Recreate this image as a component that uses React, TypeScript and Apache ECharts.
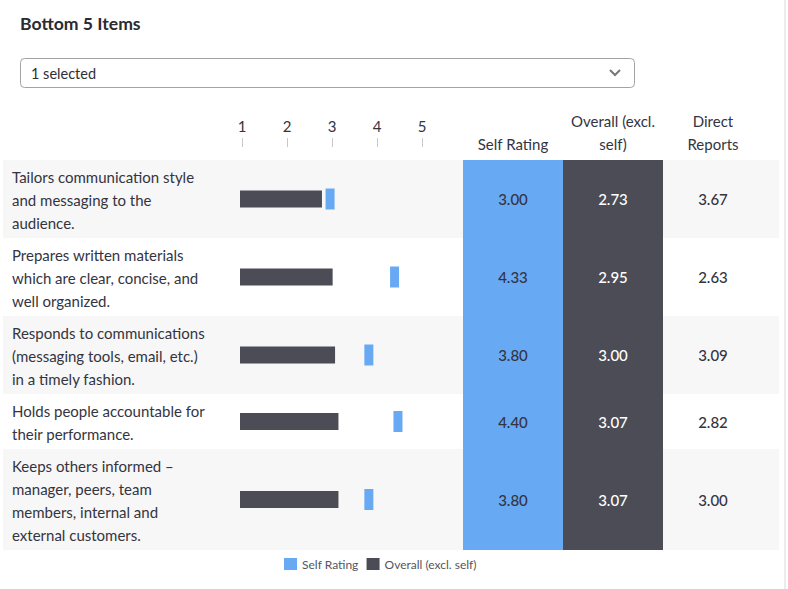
import React, { useEffect, useRef } from "react";
import * as echarts from "echarts";

const TITLE = "Bottom 5 Items";
const DROPDOWN_TEXT = "1 selected";
const ITEMS: string[][] = [
  ["Tailors communication style", "and messaging to the", "audience."],
  ["Prepares written materials", "which are clear, concise, and", "well organized."],
  ["Responds to communications", "(messaging tools, email, etc.)", "in a timely fashion."],
  ["Holds people accountable for", "their performance."],
  ["Keeps others informed –", "manager, peers, team", "members, internal and", "external customers."],
];
const SELF = [3.0, 4.33, 3.8, 4.4, 3.8];
const OVERALL = [2.73, 2.95, 3.0, 3.07, 3.07];
const DIRECT = [3.67, 2.63, 3.09, 2.82, 3.0];
const TICKS = [1, 2, 3, 4, 5];
const COLUMNS: { name: string[]; key: "self" | "overall" | "direct" }[] = [
  { name: ["Self Rating"], key: "self" },
  { name: ["Overall (excl.", "self)"], key: "overall" },
  { name: ["Direct", "Reports"], key: "direct" },
];
const SERIES_SELF = "Self Rating";
const SERIES_OVERALL = "Overall (excl. self)";

const FONT = "Lato, 'Open Sans', sans-serif";
const TEXT = "#34343f";
const BLUE = "#68a9f3";
const DARK = "#4b4c56";

export default function App() {
  const ref = useRef<HTMLDivElement>(null);
  useEffect(() => {
    if (!ref.current) return;
    const chart = echarts.init(ref.current, undefined, { renderer: "svg" });

    const LINE_H = 23;
    const PAD = 9;
    const TOP0 = 160;
    const ROW_L = 3;
    const ROW_R = 779;
    const rowH = ITEMS.map((l) => l.length * LINE_H + PAD);
    const rowTop: number[] = [];
    let acc = TOP0;
    rowH.forEach((h) => {
      rowTop.push(acc);
      acc += h;
    });
    const tableBottom = acc;
    const colX = [463, 563, 663];
    const colW = [100, 100, 116];

    const graphics: any[] = [];
    graphics.push({ type: "rect", shape: { x: 784, y: 0, width: 2, height: 589 }, style: { fill: "#ececec" }, z: 0 });
    graphics.push({
      type: "text", z: 5,
      style: { text: TITLE, x: 20, y: 23, fill: "#2a2a30", font: `bold 17.6px ${FONT}`, textAlign: "left", textVerticalAlign: "middle" },
    });
    graphics.push({
      type: "rect", z: 1,
      shape: { x: 20.5, y: 58.5, width: 614, height: 29, r: 4 },
      style: { fill: "#fff", stroke: "#a3a3a3", lineWidth: 1 },
    });
    graphics.push({
      type: "text", z: 5,
      style: { text: DROPDOWN_TEXT, x: 31, y: 73, fill: "#2e2e36", font: `14.5px ${FONT}`, textAlign: "left", textVerticalAlign: "middle" },
    });
    graphics.push({
      type: "polyline", z: 5,
      shape: { points: [[610, 70], [615, 75], [620, 70]] },
      style: { stroke: "#777", lineWidth: 2, fill: null },
    });
    rowTop.forEach((t, i) => {
      if (i % 2 === 0) {
        graphics.push({ type: "rect", z: 1, shape: { x: ROW_L, y: t, width: ROW_R - ROW_L, height: rowH[i] }, style: { fill: "#f7f7f7" } });
      }
    });
    graphics.push({ type: "rect", z: 2, shape: { x: colX[0], y: TOP0, width: colW[0], height: tableBottom - TOP0 }, style: { fill: BLUE } });
    graphics.push({ type: "rect", z: 2, shape: { x: colX[1], y: TOP0, width: colW[1], height: tableBottom - TOP0 }, style: { fill: DARK } });
    COLUMNS.forEach((c, ci) => {
      const cx = colX[ci] + colW[ci] / 2 + (ci === 2 ? -8 : 0);
      const n = c.name.length;
      c.name.forEach((line, li) => {
        graphics.push({
          type: "text", z: 5,
          style: { text: line, x: cx, y: 144 - (n - 1 - li) * 23, fill: TEXT, font: `15px ${FONT}`, textAlign: "center", textVerticalAlign: "middle" },
        });
      });
    });
    ITEMS.forEach((lines, i) => {
      lines.forEach((line, li) => {
        graphics.push({
          type: "text", z: 5,
          style: { text: line, x: 12, y: rowTop[i] + 17 + li * LINE_H, fill: TEXT, font: `15px ${FONT}`, textAlign: "left", textVerticalAlign: "middle" },
        });
      });
      const cy = rowTop[i] + rowH[i] / 2;
      const vals = [SELF[i], OVERALL[i], DIRECT[i]];
      vals.forEach((v, ci) => {
        graphics.push({
          type: "text", z: 5,
          style: {
            text: v.toFixed(2), x: colX[ci] + colW[ci] / 2 + (ci === 2 ? -8 : 0), y: cy,
            fill: ci === 1 ? "#ffffff" : TEXT, font: `500 15px ${FONT}`, textAlign: "center", textVerticalAlign: "middle",
          },
        });
      });
    });

    const BAR_MIN = 1.04;
    const BAR_MAX = 5.2;
    const PX_PER = 48.5;
    const barGridW = (BAR_MAX - BAR_MIN) * PX_PER;

    const grids: any[] = [{ left: 242, top: 146, width: 180, height: 1 }];
    const xAxes: any[] = [{
      type: "value", gridIndex: 0, min: 1, max: 5, interval: 1, position: "top",
      axisLine: { show: false },
      axisTick: { show: true, length: 9, lineStyle: { color: "#c8c8c8", width: 1 } },
      splitLine: { show: false },
      axisLabel: { fontSize: 15, color: TEXT, fontFamily: FONT, margin: 13, formatter: (v: number) => (TICKS.includes(v) ? String(v) : "") },
    }];
    const yAxes: any[] = [{ type: "value", gridIndex: 0, show: false }];
    const series: any[] = [];
    ITEMS.forEach((_, i) => {
      grids.push({ left: 240, top: rowTop[i], width: barGridW, height: rowH[i] });
      xAxes.push({ type: "value", gridIndex: i + 1, min: BAR_MIN, max: BAR_MAX, show: false });
      yAxes.push({ type: "category", gridIndex: i + 1, data: [String(i)], show: false });
      series.push({
        type: "bar", name: SERIES_OVERALL, xAxisIndex: i + 1, yAxisIndex: i + 1,
        data: [OVERALL[i]], barWidth: 17, clip: true, z: 10,
        itemStyle: { color: DARK },
      });
      series.push({
        type: "scatter", name: SERIES_SELF, xAxisIndex: i + 1, yAxisIndex: i + 1,
        data: [[SELF[i], 0]], symbol: "rect", symbolSize: [9, 21], symbolOffset: [-5, 0], z: 11,
        itemStyle: { color: BLUE, opacity: 1 },
      });
    });

    chart.setOption({
      animation: false,
      textStyle: { fontFamily: FONT },
      grid: grids,
      xAxis: xAxes,
      yAxis: yAxes,
      series,
      legend: {
        left: 284, top: 558, padding: 0,
        itemWidth: 13, itemHeight: 12, itemGap: 8,
        textStyle: { fontSize: 12, color: "#555560", fontFamily: FONT },
        data: [{ name: SERIES_SELF, icon: "rect" }, { name: SERIES_OVERALL, icon: "rect" }],
        selectedMode: false,
      },
      graphic: { elements: graphics },
    });
    return () => chart.dispose();
  }, []);
  return <div ref={ref} style={{ position: "fixed", left: 0, top: 0, width: 788, height: 589, background: "#fff" }} />;
}
